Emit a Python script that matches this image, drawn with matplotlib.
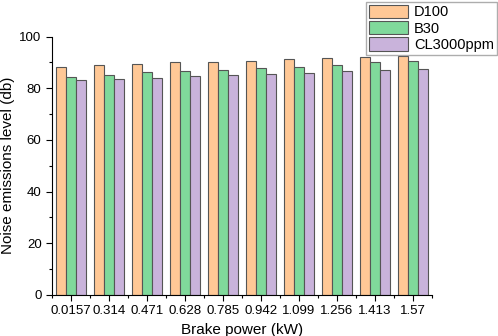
import matplotlib
matplotlib.use('Agg')
import matplotlib.pyplot as plt
import numpy as np
from matplotlib.ticker import MultipleLocator

plt.rcParams['font.family'] = ['Liberation Sans', 'DejaVu Sans']

power = ['0.0157', '0.314', '0.471', '0.628', '0.785', '0.942', '1.099', '1.256', '1.413', '1.57']
d100 = [88.1, 88.9, 89.3, 90.1, 90.3, 90.7, 91.2, 91.9, 92.2, 92.4]
b30 = [84.4, 85.3, 86.2, 86.7, 87.1, 88.0, 88.3, 88.9, 90.1, 90.6]
cl3000 = [83.2, 83.6, 84.1, 84.6, 85.1, 85.7, 86.0, 86.6, 86.9, 87.6]

series = [('D100', d100, '#FFC896'), ('B30', b30, '#80D99B'), ('CL3000ppm', cl3000, '#C9B3DB')]

fig = plt.figure(figsize=(4.98, 3.36), dpi=100)
ax = fig.add_axes([52/498, 1 - 294.7/336, 380/498, (294.7 - 36.7)/336])

x = np.arange(len(power))
w = 0.27
for i, (name, vals, col) in enumerate(series):
    ax.bar(x + (i - 1) * w, vals, w, color=col, edgecolor='#555555', linewidth=0.8, label=name)

ax.set_xlim(-0.5, len(power) - 0.5)
ax.set_ylim(0, 100)
ax.set_xticks(x)
ax.set_xticklabels(power, fontsize=9.5)
ax.xaxis.set_minor_locator(MultipleLocator(1, offset=0.5))
ax.yaxis.set_major_locator(MultipleLocator(20))
ax.yaxis.set_minor_locator(MultipleLocator(10))
ax.tick_params(axis='y', labelsize=9.5)
ax.tick_params(which='major', direction='out', length=4, width=0.8)
ax.tick_params(which='minor', direction='out', length=2.5, width=0.8)
ax.spines['top'].set_visible(False)
ax.spines['right'].set_visible(False)
ax.set_xlabel('Brake power (kW)', fontsize=11)
ax.set_ylabel('Noise emissions level (db)', fontsize=11, labelpad=3)

leg = fig.legend(loc='upper right', bbox_to_anchor=(497/498, 1 - 2/336), fontsize=10.5,
                 frameon=True, fancybox=False, edgecolor='#999999', handlelength=2.7,
                 handleheight=1.0, labelspacing=0.12, borderpad=0.2, handletextpad=0.4,
                 borderaxespad=0)

fig.savefig('out.png', dpi=100)
